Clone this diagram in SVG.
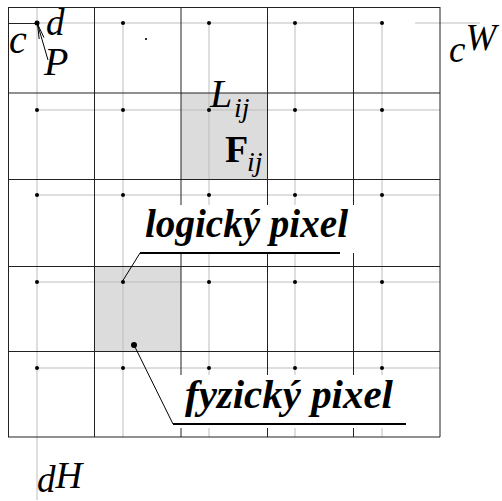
<svg xmlns="http://www.w3.org/2000/svg" width="502" height="501" viewBox="0 0 502 501">
<style>
.dk{stroke:#222;stroke-width:1;fill:none}
.lt{stroke:#bdbdbd;stroke-width:1;fill:none}
.dot{fill:#000}
.it{font-family:"Liberation Serif","DejaVu Serif",serif;font-style:italic;font-size:40px;fill:#000}
.it2{font-family:"Liberation Serif","DejaVu Serif",serif;font-style:italic;font-size:37px;fill:#000}
.sub{font-family:"Liberation Serif","DejaVu Serif",serif;font-style:italic;font-size:28px;fill:#000}
.bi{font-family:"Liberation Serif","DejaVu Serif",serif;font-style:italic;font-weight:bold;font-size:41px;fill:#000}
.bf{font-family:"Liberation Serif","DejaVu Serif",serif;font-weight:bold;font-size:38px;fill:#000}
.ld{stroke:#000;stroke-width:1;fill:none}
.ul{stroke:#000;stroke-width:2.2;fill:none}
</style>
<rect width="502" height="501" fill="#fff"/>
<g id="fills">
<rect x="181" y="93" width="86" height="86" fill="#dcdcdc"/>
<rect x="94" y="266" width="87" height="85" fill="#dcdcdc"/>
</g>
<g id="light-grid">
<path class="lt" d="M37,7V500 M123,23V437 M209,23V437 M295,23V437 M382,23V437"/>
<path class="lt" d="M37,23H383 M415,23H480 M37,110H440 M37,195H440 M37,282H440 M37,368H440"/>
</g>
<g id="dark-grid">
<path class="dk" d="M8.5,7.5H440 M8,93H440 M8,179.5H440 M8,266.5H440 M8,351.5H440 M8,437H440"/>
<path class="dk" d="M8.5,7V437 M94.5,7V437 M181,7V437 M267.5,7V437 M353.5,7V437 M440,7V437"/>
<path class="dk" d="M8,23.5H37"/>
</g>
<g id="dots">
<circle class="dot" cx="37" cy="23" r="2.5"/><circle class="dot" cx="123" cy="23" r="2"/><circle class="dot" cx="209" cy="23" r="2"/><circle class="dot" cx="295" cy="23" r="2"/><circle class="dot" cx="382" cy="23" r="2"/>
<circle class="dot" cx="37" cy="110" r="2"/><circle class="dot" cx="123" cy="110" r="2"/><circle class="dot" cx="209" cy="110" r="2"/><circle class="dot" cx="295" cy="110" r="2"/><circle class="dot" cx="382" cy="110" r="2"/>
<circle class="dot" cx="37" cy="195" r="2"/><circle class="dot" cx="123" cy="195" r="2"/><circle class="dot" cx="209" cy="195" r="2"/><circle class="dot" cx="295" cy="195" r="2"/><circle class="dot" cx="382" cy="195" r="2"/>
<circle class="dot" cx="37" cy="282" r="2"/><circle class="dot" cx="123" cy="282" r="2"/><circle class="dot" cx="209" cy="282" r="2"/><circle class="dot" cx="295" cy="282" r="2"/><circle class="dot" cx="382" cy="282" r="2"/>
<circle class="dot" cx="37" cy="368" r="2"/><circle class="dot" cx="123" cy="368" r="2"/><circle class="dot" cx="209" cy="368" r="2"/><circle class="dot" cx="295" cy="368" r="2"/><circle class="dot" cx="382" cy="368" r="2"/>
<circle class="dot" cx="146" cy="39" r="1.1"/>
<circle class="dot" cx="134" cy="345" r="3"/>
</g>
<g id="label-logicky">
<rect x="141" y="205" width="215" height="48" fill="#fff"/>
<text class="bi" x="145" y="237" textLength="203" lengthAdjust="spacingAndGlyphs">logický pixel</text>
</g>
<g id="label-fyzicky">
<rect x="174" y="375" width="236" height="53" fill="#fff"/>
<text class="bi" x="185" y="408" textLength="208" lengthAdjust="spacingAndGlyphs">fyzický pixel</text>
</g>
<g id="connectors">
<path class="ld" d="M122,282L140,253"/>
<path class="ul" d="M140,253H340"/>
<path class="ld" d="M134,345L173,424"/>
<path class="ul" d="M173,424H406"/>
<path class="ld" d="M37.5,24L48,60"/>
<path class="ld" d="M39.2,39L37.5,24L44,37.6"/>
</g>
<g id="labels">
<text class="it" x="9" y="53">c</text>
<text class="it2" x="46" y="35">d</text>
<text class="it" x="44" y="75">P</text>
<text class="it" x="210" y="107">L</text><text class="sub" x="234" y="117">ij</text>
<text class="bf" x="225" y="162">F</text><text class="sub" x="247" y="171">ij</text>
<text class="it2" x="449" y="62">c<tspan dy="-12">W</tspan></text>
<text class="it2" x="37" y="492">d<tspan dy="-4">H</tspan></text>
</g>
</svg>
